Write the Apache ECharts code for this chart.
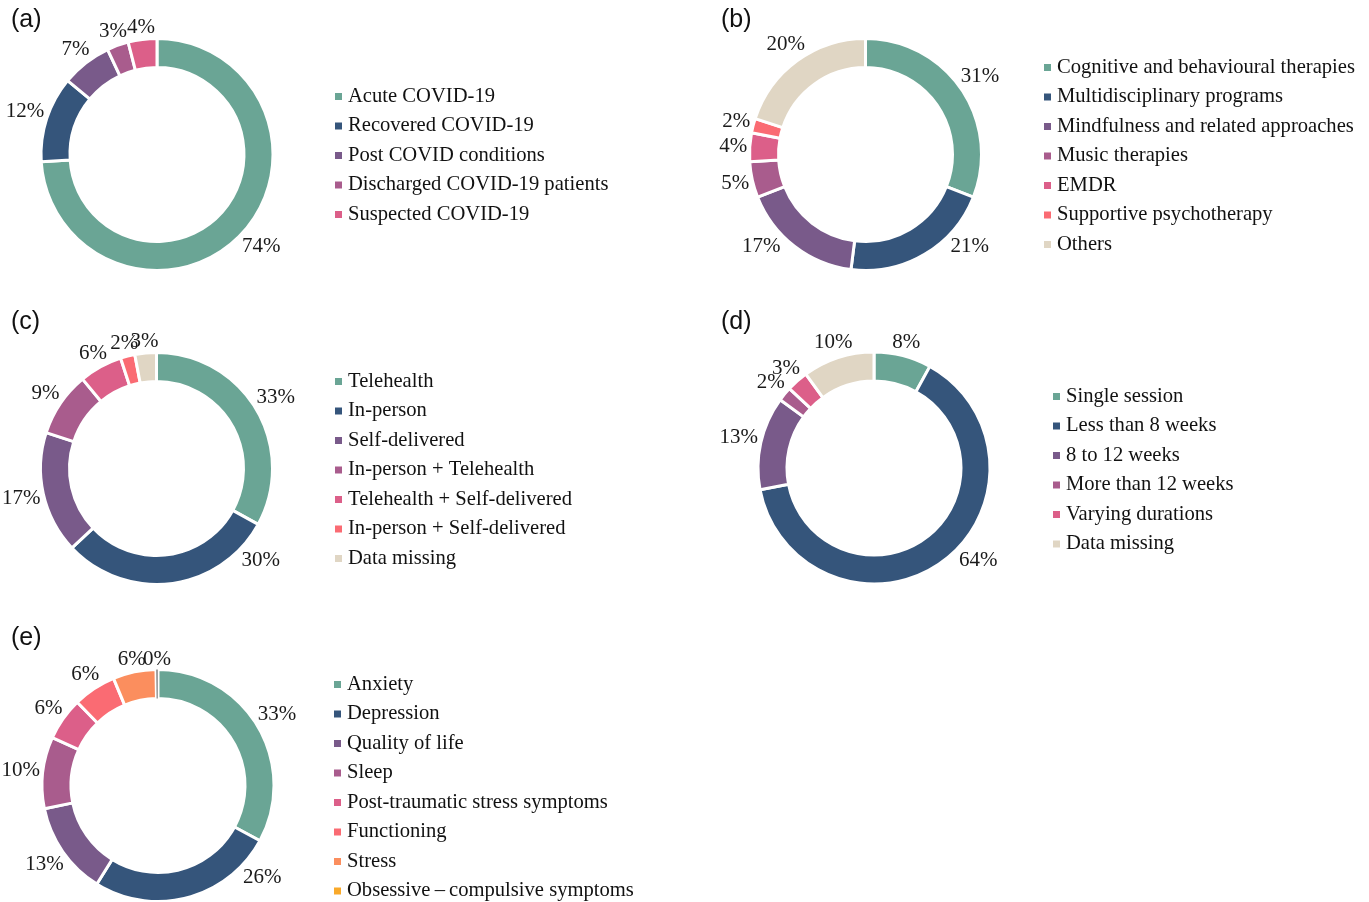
<!DOCTYPE html>
<html>
<head>
<meta charset="utf-8">
<script src="https://cdn.jsdelivr.net/npm/echarts@6/dist/echarts.min.js"></script>
<style>
  html, body { margin: 0; padding: 0; background: #fff; }
  #main { width: 1369px; height: 902px; }
</style>
</head>
<body>
<div id="main"></div>
<script>
// panel (a) population
var popNames = ['Acute COVID-19', 'Recovered COVID-19', 'Post COVID conditions', 'Discharged COVID-19 patients', 'Suspected COVID-19'];
var popValues = [74, 12, 7, 3, 4];
// panel (b) intervention type
var typeNames = ['Cognitive and behavioural therapies', 'Multidisciplinary programs', 'Mindfulness and related approaches', 'Music therapies', 'EMDR', 'Supportive psychotherapy', 'Others'];
var typeValues = [31, 21, 17, 5, 4, 2, 20];
// panel (c) delivery mode
var modeNames = ['Telehealth', 'In-person', 'Self-delivered', 'In-person + Telehealth', 'Telehealth + Self-delivered', 'In-person + Self-delivered', 'Data missing'];
var modeValues = [33, 30, 17, 9, 6, 2, 3];
// panel (d) duration
var durNames = ['Single session', 'Less than 8 weeks', '8 to 12 weeks', 'More than 12 weeks', 'Varying durations', 'Data missing'];
var durValues = [8, 64, 13, 2, 3, 10];
// panel (e) outcomes
var outNames = ['Anxiety', 'Depression', 'Quality of life', 'Sleep', 'Post-traumatic stress symptoms', 'Functioning', 'Stress', 'Obsessive\u2009\u2013\u2009compulsive symptoms'];
var outValues = [33, 26, 13, 10, 6, 6, 6, 0];

var teal = '#6aa595', navy = '#35557b', purple = '#795a8a', mauve = '#a95c8d',
    pink = '#dc5f89', coral = '#fa6b73', orange = '#fb8e5e', beige = '#e0d6c4', amber = '#f9a92a';

var serif = 'Liberation Serif';
var R_OUT = 116, R_IN = 87;

// percentages sit just outside the ring along the slice direction;
// the low ones are held up beside the ring instead of hanging below it
function makeLabelLayout(center) {
  var cx = center[0], cy = center[1];
  return function (params) {
    var pts = params.labelLinePoints;
    if (!pts || pts.length < 2) return {};
    var dx = pts[1][0] - pts[0][0], dy = pts[1][1] - pts[0][1];
    var len = Math.sqrt(dx * dx + dy * dy) || 1;
    var ux = dx / len, uy = dy / len;
    var w = params.labelRect.width, h = 16;
    var r = R_OUT - 1 + 3 + Math.abs(ux) * w / 2 + Math.abs(uy) * h / 2;
    var x = cx + ux * r, y = cy + uy * r;
    var yMax = cy + 92;
    if (y > yMax) {
      y = yMax;
      var top = y - cy - 9;
      var ext = Math.sqrt(Math.max(0, R_OUT * R_OUT - top * top));
      x = cx + (ux < 0 ? -1 : 1) * (ext + 4 + w / 2);
    }
    return { x: x, y: y, align: 'center', verticalAlign: 'middle' };
  };
}

function ring(names, values, colors, center, extra) {
  var s = {
    type: 'pie',
    radius: [R_IN, R_OUT],
    center: center,
    startAngle: 90,
    clockwise: true,
    avoidLabelOverlap: false,
    itemStyle: { borderColor: '#fff', borderWidth: 3 },
    label: {
      show: true, position: 'outside', formatter: '{c}%',
      fontFamily: serif, fontSize: 21, lineHeight: 20, color: '#1a1a1a'
    },
    labelLine: { show: true, length: 10, length2: 0, lineStyle: { width: 0, opacity: 0 } },
    labelLayout: makeLabelLayout(center),
    emphasis: { disabled: true },
    data: names.map(function (n, i) {
      return { name: n, value: values[i], itemStyle: { color: colors[i] } };
    })
  };
  if (extra) extra(s);
  return s;
}

function legendAt(names, left, top, items) {
  return {
    orient: 'vertical', left: left, top: top, padding: 0,
    icon: 'rect', itemWidth: 7, itemHeight: 7, itemGap: 8.5,
    itemStyle: { borderWidth: 0 },
    textStyle: { fontFamily: serif, fontSize: 20.6, lineHeight: 20, color: '#111', padding: [0, 0, 0, 1] },
    selectedMode: false,
    data: items || names
  };
}

function panelTitle(text, left, top) {
  return {
    text: text, left: left, top: top, padding: 0,
    textStyle: { fontFamily: 'Liberation Sans', fontSize: 25, fontWeight: 'normal', color: '#111' }
  };
}

var chart = echarts.init(document.getElementById('main'));
chart.setOption({
  backgroundColor: '#fff',
  animation: false,
  title: [
    panelTitle('(a)', 11, 8),
    panelTitle('(b)', 721, 8),
    panelTitle('(c)', 11, 310),
    panelTitle('(d)', 721, 310),
    panelTitle('(e)', 11, 626)
  ],
  legend: [
    legendAt(popNames, 335, 86),
    legendAt(typeNames, 1044, 57),
    legendAt(modeNames, 335, 371),
    legendAt(durNames, 1053, 386),
    legendAt(outNames, 334, 674, outNames.map(function (n, i) {
      return i === outNames.length - 1 ? { name: n, itemStyle: { color: amber } } : n;
    }))
  ],
  series: [
    ring(popNames, popValues, [teal, navy, purple, mauve, pink], [157, 154.5]),
    ring(typeNames, typeValues, [teal, navy, purple, mauve, pink, coral, beige], [865.5, 154.5]),
    ring(modeNames, modeValues, [teal, navy, purple, mauve, pink, coral, beige], [156.5, 468.5]),
    ring(durNames, durValues, [teal, navy, purple, mauve, pink, beige], [874, 468]),
    ring(outNames, outValues, [teal, navy, purple, mauve, pink, coral, orange, amber], [158, 785.5], function (s) {
      s.minAngle = 1;
      s.data[s.data.length - 1].itemStyle = { color: '#a0a0a0', borderWidth: 0 };
    })
  ]
});
</script>
</body>
</html>
